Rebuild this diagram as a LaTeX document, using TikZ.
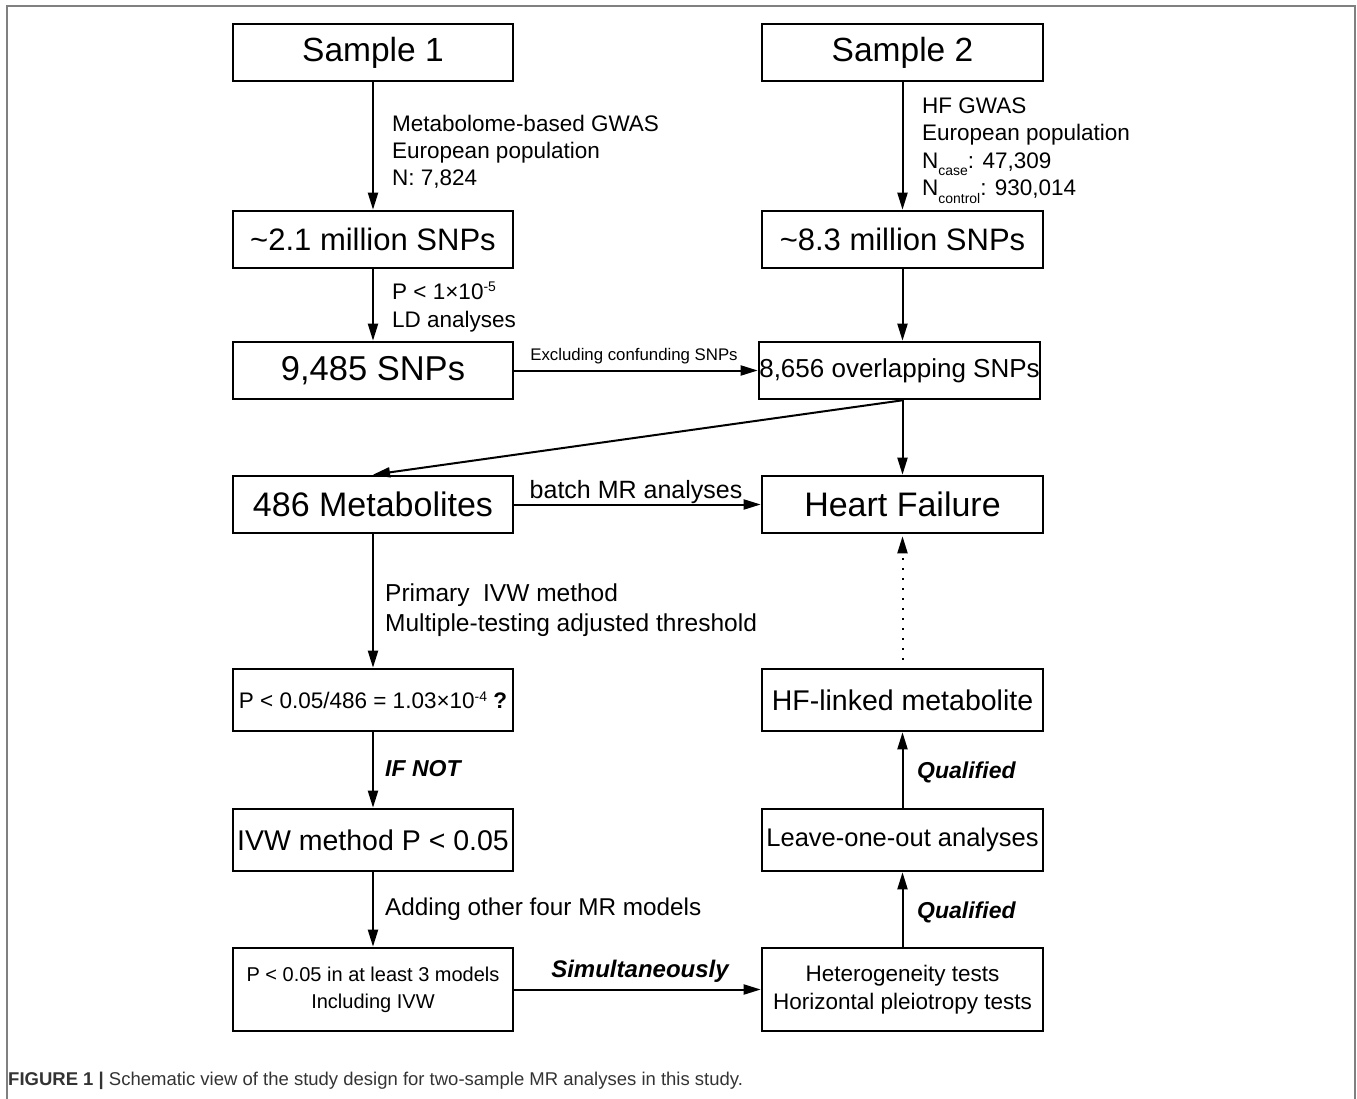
\documentclass[tikz,border=0pt]{standalone}
\usepackage{fontspec}
\setmainfont{Liberation Sans}
\usetikzlibrary{arrows.meta}
\newcommand\mysup[1]{\raisebox{0.62ex}{\scalebox{0.62}{#1}}}
\newcommand\mysub[1]{\raisebox{-0.6ex}{\scalebox{0.62}{#1}}}
\newcommand\fs[2]{\fontsize{#1}{#2}\selectfont}
\begin{document}
\begin{tikzpicture}[x=1pt,y=-1pt,
  box/.style={draw,line width=2.6pt,inner sep=0pt,minimum width=280pt,minimum height=57pt},
  rbox/.style={box,minimum width=281pt},
  tip/.style={-{Triangle[length=17pt,width=10pt]}},
  arr/.style={line width=2pt,tip},
  lbl/.style={anchor=west,inner sep=0pt,align=left},
  bi/.style={lbl,font=\fs{23}{28}\bfseries\itshape}]
\useasboundingbox (0,0) rectangle (1357,1099);
\draw[black!50,line width=2pt] (7,1099) -- (7,6) -- (1355,6) -- (1355,1099);

% left column
\node[box,font=\fs{33.5}{40}] (s1) at (373,52.5) {Sample 1};
\node[box,font=\fs{31}{37}] (m21) at (373,239.5) {\textasciitilde 2.1 million SNPs};
\node[box,font=\fs{34.5}{41}] (s9) at (373,370.5) {9,485 SNPs};
\node[box,font=\fs{34}{40}] (met) at (373,504.5) {486 Metabolites};
\node[box,minimum height=62pt,font=\fs{22.5}{27}] (pth) at (373,700) {P < 0.05/486 = 1.03×10\mysup{-4} \textbf{?}};
\node[box,minimum height=62pt,font=\fs{28.5}{34}] (ivw) at (373,840) {IVW method P < 0.05};
\node[box,minimum height=83pt,align=center,font=\fs{20}{27}] (p3) at (373,989.5) {P < 0.05 in at least 3 models\\ Including IVW};

% right column
\node[rbox,font=\fs{33.5}{40}] (s2) at (902.5,52.5) {Sample 2};
\node[rbox,font=\fs{31}{37}] (m83) at (902.5,239.5) {\textasciitilde 8.3 million SNPs};
\node[rbox,font=\fs{26}{31}] (ovl) at (899.5,370.5) {8,656 overlapping SNPs};
\node[rbox,font=\fs{34}{40}] (hf) at (902.5,504.5) {Heart Failure};
\node[rbox,minimum height=62pt,font=\fs{28.5}{34}] (hfl) at (902.5,700) {HF-linked metabolite};
\node[rbox,minimum height=62pt,font=\fs{25.5}{30}] (loo) at (902.5,840) {Leave-one-out analyses};
\node[rbox,minimum height=83pt,align=center,font=\fs{22.5}{28}] (het) at (902.5,989.5) {Heterogeneity tests\\ Horizontal pleiotropy tests};

% connectors
\coordinate (ovb) at (ovl.south -| hf.north);
\draw[arr] (s1.south) -- (m21.north);
\draw[arr] (m21.south) -- (s9.north);
\draw[arr] (s2.south) -- (m83.north);
\draw[arr] (m83.south) -- (m83.south |- ovl.north);
\draw[arr] (s9.east) -- (ovl.west);
\draw[arr] (ovb) -- (met.north);
\draw[arr] (ovb) -- (hf.north);
\draw[arr] (met.east) -- (hf.west);
\draw[arr] (met.south) -- (pth.north);
\draw[arr] (pth.south) -- (ivw.north);
\draw[arr] (ivw.south) -- (p3.north);
\draw[arr] (p3.east) -- (het.west);
\draw[arr] (het.north) -- (loo.south);
\draw[arr] (loo.north) -- (hfl.south);
\draw[line width=2pt,dash pattern=on 1.5pt off 8.5pt,shorten <=8pt,shorten >=2pt,tip] (hfl.north) -- (hf.south);

% labels
\node[lbl,font=\fs{22.5}{27}] (l1) at (392,152) {Metabolome-based GWAS\\European population\\N: 7,824};
\node[lbl,font=\fs{22.5}{27.5}] (l2) at (922,150.5) {HF GWAS\\European population\\N\mysub{case}: 47,309\\N\mysub{control}: 930,014};
\node[lbl,font=\fs{22.5}{28}] (l3) at (392,307) {P < 1×10\mysup{-5}\\LD analyses};
\node[lbl,anchor=center,font=\fs{16.8}{20}] (l4) at (634,356) {Excluding confunding SNPs};
\node[lbl,anchor=center,font=\fs{25}{28}] (l5) at (636,492) {batch MR analyses};
\node[lbl,font=\fs{24.5}{30}] (l6) at (385,610) {Primary\ \ IVW method\\Multiple-testing adjusted threshold};
\node[bi] (l7) at (385,769) {IF NOT};
\node[lbl,font=\fs{24.3}{30}] (l8) at (385,909) {Adding other four MR models};
\node[bi,anchor=center,font=\fs{24}{28}\bfseries\itshape] (l9) at (640,971) {Simultaneously};
\node[bi] (l10) at (917,772) {Qualified};
\node[bi] (l11) at (917,912) {Qualified};

% caption
\node[lbl,text=black!80,font=\fs{18.5}{22}] (cap) at (8,1081) {\textbf{FIGURE 1 |} Schematic view of the study design for two-sample MR analyses in this study.};
\end{tikzpicture}
\end{document}
